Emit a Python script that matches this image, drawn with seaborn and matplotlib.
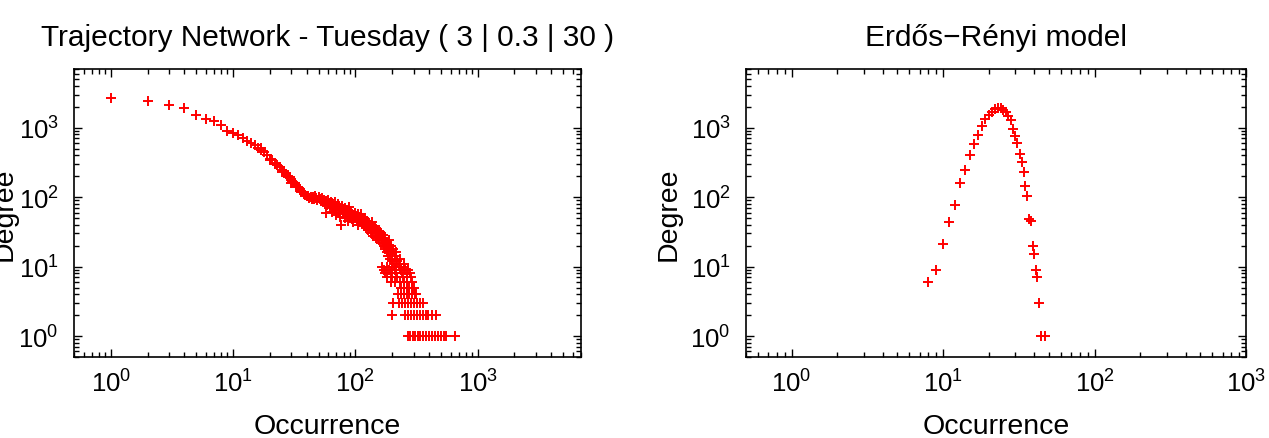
#!/usr/bin/env python3

"""
Degree vs occurrence, trajectory network (Tuesday) next to an Erdos-Renyi graph.
"""

import pandas as pd
import matplotlib.pyplot as plt
import seaborn as sns
from matplotlib.ticker import LogLocator, NullFormatter

# --- trajectory network: upper branch, one point per occurrence value
head_occ = [1, 2, 3, 4, 5, 6, 7, 8, 9, 10, 11, 12, 13, 14, 15, 16, 17, 18, 19, 20,
            21, 22, 23, 24, 25, 26, 27, 28, 29, 30, 31, 32, 33, 34, 35, 36, 37, 38, 39, 40]
head_deg = [2700, 2420, 2090, 1890, 1500, 1345, 1230, 1100, 890, 845, 775, 710, 650, 600,
            555, 510, 470, 440, 400, 360, 340, 315, 295, 270, 250, 235, 215, 203, 192, 178,
            168, 160, 148, 140, 130, 124, 118, 112, 106, 103]

# --- trajectory network: scattered middle part
body_occ = [17, 20, 22, 25, 28, 30, 33, 36, 38,
            41, 42, 43, 44, 45, 46, 47, 48, 49, 50, 51, 52, 53, 54, 55, 56, 57, 58, 59, 60,
            61, 62, 63, 64, 65, 66, 67, 68, 69, 70, 71, 72, 73, 74, 75, 76, 77, 78, 79, 80,
            82, 83, 84, 85, 86, 87, 88, 89, 90, 92, 93, 94, 95, 96, 98, 99, 100, 102, 103,
            105, 106, 108, 110, 111, 113, 115, 117, 118, 120, 122, 124, 126, 128, 130, 132,
            134, 136, 138, 140, 142, 145, 147, 150, 152, 155, 157, 160, 162, 165, 168, 170,
            172, 175, 178, 180, 182, 185, 188, 190, 192, 195, 198, 200, 203, 206, 210, 216,
            220, 228, 232, 248,
            64, 81, 91, 97, 107, 112, 119, 125, 131, 137, 144, 149, 154, 161, 167, 174,
            184, 194]
body_deg = [505, 345, 300, 232, 198, 162, 140, 118, 110,
            104, 98, 101, 95, 99, 93, 104, 96, 90, 100, 94, 88, 97, 85, 92, 80, 60, 88, 76, 92,
            83, 70, 86, 74, 62, 80, 68, 84, 56, 75, 66, 80, 60, 72, 52, 68, 40, 74, 58, 64,
            70, 50, 62, 56, 66, 46, 60, 72, 54, 62, 48, 58, 52, 44, 56, 60, 50, 54, 46,
            58, 40, 50, 46, 54, 42, 48, 38, 50, 44, 36, 46, 40, 34, 42, 38,
            30, 40, 34, 28, 36, 32, 26, 34, 30, 24, 28, 32, 22, 26, 29, 20,
            25, 18, 23, 16, 21, 14, 19, 24, 13, 17, 12, 15, 18, 11, 14, 16,
            12, 11, 13, 11,
            82, 68, 64, 52, 48, 58, 42, 46, 36, 44, 38, 30, 27, 30, 22, 26,
            20, 20]

# --- trajectory network: low degree rows (degree 10 down to 1)
tail_occ = [165, 180, 200, 215, 230, 250,
            170, 190, 210, 235, 255, 270,
            175, 195, 215, 240, 262, 280,
            180, 200, 220, 245, 265, 285,
            195, 212, 230, 248, 265, 290,
            235, 248, 262, 276, 290, 303,
            225, 238, 250, 262, 275, 290, 305, 314,
            202, 227, 240, 255, 270, 285, 300, 320, 338, 355,
            199, 256, 270, 285, 300, 318, 335, 355, 375, 395, 420, 455,
            267, 280, 295, 310, 325, 340, 360, 380, 400, 420, 445, 470, 500, 530, 551, 655]
tail_deg = [10, 10, 10, 10, 10, 10,
            9, 9, 9, 9, 9, 9,
            8, 8, 8, 8, 8, 8,
            7, 7, 7, 7, 7, 7,
            6, 6, 6, 6, 6, 6,
            5, 5, 5, 5, 5, 5,
            4, 4, 4, 4, 4, 4, 4, 4,
            3, 3, 3, 3, 3, 3, 3, 3, 3, 3,
            2, 2, 2, 2, 2, 2, 2, 2, 2, 2, 2, 2,
            1, 1, 1, 1, 1, 1, 1, 1, 1, 1, 1, 1, 1, 1, 1, 1]

# --- Erdos-Renyi model
er_occ = [8, 9, 10, 11, 12, 13, 14, 15, 16, 17, 18, 19, 20, 21, 22, 23, 24, 25, 26, 27,
          28, 29, 30, 31, 32, 33, 34, 35, 36, 37, 38, 39, 40, 41, 42, 43, 44, 47]
er_deg = [6, 9, 21, 44, 76, 160, 250, 410, 580, 790, 1070, 1320, 1500, 1680, 1830, 1950,
          1900, 1820, 1680, 1480, 1270, 965, 772, 600, 420, 318, 229, 146, 105, 48, 45, 20,
          15, 9, 7, 3, 1, 1]

titles = ["Trajectory Network - Tuesday ( 3 | 0.3 | 30 )", "Erdős\u2212Rényi model"]
xlims = [(0.5, 7000), (0.5, 1000)]

traj = pd.DataFrame({"Occurrence": head_occ + body_occ + tail_occ,
                     "Degree": head_deg + body_deg + tail_deg})
er = pd.DataFrame({"Occurrence": er_occ, "Degree": er_deg})

sns.set_style("ticks")
plt.rcParams["font.family"] = ["Liberation Sans", "DejaVu Sans"]
plt.rcParams["mathtext.fontset"] = "custom"
plt.rcParams["mathtext.rm"] = "Liberation Sans"
plt.rcParams["mathtext.it"] = "Liberation Sans"
plt.rcParams["text.color"] = "black"
plt.rcParams["axes.labelcolor"] = "black"
plt.rcParams["xtick.color"] = "black"
plt.rcParams["ytick.color"] = "black"

fig = plt.figure(figsize=(12.69, 4.39), dpi=100)
ax1 = fig.add_axes([74 / 1269, 81 / 439, 507 / 1269, 288 / 439])
ax2 = fig.add_axes([746 / 1269, 81 / 439, 500 / 1269, 288 / 439])

for ax, df, title, xlim, lx in zip([ax1, ax2], [traj, er], titles, xlims, [-0.112, -0.128]):
    sns.scatterplot(data=df, x="Occurrence", y="Degree", marker="+", color="red",
                    s=42, linewidth=1.4, ax=ax, legend=False)
    ax.set_xscale("log")
    ax.set_yscale("log")
    ax.set_xlim(*xlim)
    ax.set_ylim(0.5, 7000)
    ax.xaxis.set_major_locator(LogLocator(base=10, numticks=10))
    ax.yaxis.set_major_locator(LogLocator(base=10, numticks=10))
    ax.xaxis.set_minor_locator(LogLocator(base=10, subs=range(2, 10), numticks=20))
    ax.yaxis.set_minor_locator(LogLocator(base=10, subs=range(2, 10), numticks=20))
    ax.xaxis.set_minor_formatter(NullFormatter())
    ax.yaxis.set_minor_formatter(NullFormatter())
    ax.tick_params(which="both", direction="in", top=True, right=True, width=1.0, colors="black")
    ax.tick_params(which="major", length=6, labelsize=18.5)
    ax.tick_params(which="minor", length=3.5)
    ax.tick_params(axis="x", which="major", pad=9)
    ax.tick_params(axis="y", which="major", pad=11)
    for sp in ax.spines.values():
        sp.set_linewidth(1.2)
        sp.set_color("black")
    ax.set_xlabel("Occurrence", fontsize=20.5, labelpad=12)
    ax.set_ylabel("Degree", fontsize=20.5)
    ax.yaxis.set_label_coords(lx, 0.5)
    ax.set_title(title, fontsize=21.5, pad=17)

fig.savefig("out.png", dpi=100)
plt.close(fig)
